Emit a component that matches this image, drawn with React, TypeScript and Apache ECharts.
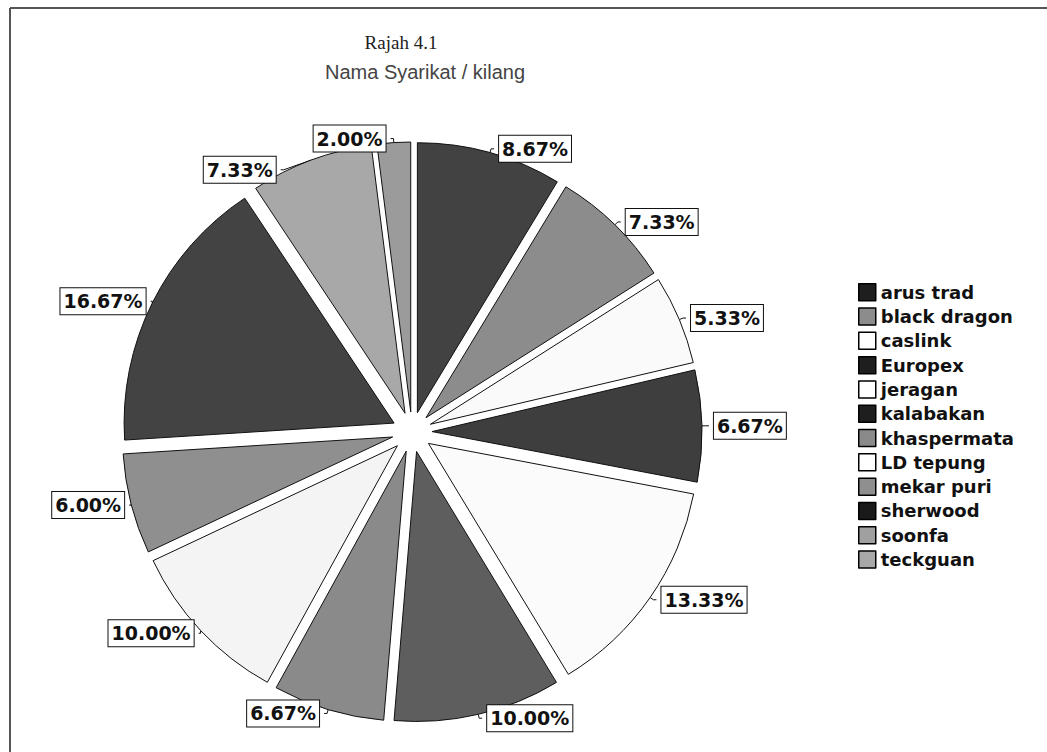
import React, { useEffect, useRef } from "react";
import * as echarts from "echarts";

const categories = [
  "arus trad",
  "black dragon",
  "caslink",
  "Europex",
  "jeragan",
  "kalabakan",
  "khaspermata",
  "LD tepung",
  "mekar puri",
  "sherwood",
  "soonfa",
  "teckguan",
];
const percents = [8.67, 7.33, 5.33, 6.67, 13.33, 10.0, 6.67, 10.0, 6.0, 16.67, 7.33, 2.0];
const sliceColors = [
  "#424242",
  "#8c8c8c",
  "#fafafa",
  "#3e3e3e",
  "#fbfbfb",
  "#5e5e5e",
  "#8a8a8a",
  "#f4f4f4",
  "#8f8f8f",
  "#434343",
  "#a8a8a8",
  "#9b9b9b",
];
const legendColors = [
  "#1e1e1e",
  "#8c8c8c",
  "#ffffff",
  "#1e1e1e",
  "#ffffff",
  "#1e1e1e",
  "#8a8a8a",
  "#ffffff",
  "#8f8f8f",
  "#1a1a1a",
  "#a0a0a0",
  "#a8a8a8",
];
const titleLine1 = "Rajah 4.1";
const titleLine2 = "Nama Syarikat / kilang";

export default function App() {
  const ref = useRef<HTMLDivElement>(null);
  useEffect(() => {
    if (!ref.current) return;
    const chart = echarts.init(ref.current, undefined, { renderer: "svg" });
    const data = categories.map((name, i) => ({
      name,
      value: percents[i],
      selected: true,
      itemStyle: { color: sliceColors[i] },
    }));
    chart.setOption({
      animation: false,
      backgroundColor: "#ffffff",
      graphic: [
        {
          type: "line",
          shape: { x1: 10, y1: 8, x2: 1047, y2: 8 },
          style: { stroke: "#555", lineWidth: 2 },
        },
        {
          type: "line",
          shape: { x1: 10, y1: 8, x2: 10, y2: 752 },
          style: { stroke: "#555", lineWidth: 2 },
        },
        {
          type: "text",
          x: 401,
          y: 42,
          style: {
            text: titleLine1,
            font: "19px 'Liberation Serif', serif",
            fill: "#222",
            textAlign: "center",
            textVerticalAlign: "middle",
          },
        },
        {
          type: "text",
          x: 425,
          y: 72,
          style: {
            text: titleLine2,
            font: "20px 'Liberation Sans', Arial, sans-serif",
            fill: "#444",
            textAlign: "center",
            textVerticalAlign: "middle",
          },
        },
      ],
      legend: {
        orient: "vertical",
        left: 858,
        top: 283,
        padding: 0,
        itemWidth: 17,
        itemHeight: 17,
        itemGap: 5.8,
        icon: "rect",
        selectedMode: false,
        data: categories.map((name, i) => ({
          name,
          itemStyle: { color: legendColors[i], borderColor: "#000", borderWidth: 1.5 },
        })),
        textStyle: {
          fontFamily: "'DejaVu Sans', sans-serif",
          fontWeight: "bold",
          fontSize: 18,
          lineHeight: 18,
          color: "#111",
        },
      },
      series: [
        {
          type: "pie",
          center: [412, 432],
          radius: [0, 270],
          startAngle: 90,
          clockwise: true,
          selectedMode: "multiple",
          selectedOffset: 20,
          avoidLabelOverlap: true,
          emphasis: { disabled: true },
          itemStyle: { borderColor: "#111", borderWidth: 1 },
          label: {
            show: true,
            position: "outside",
            formatter: (p: any) => p.value.toFixed(2) + "%",
            fontFamily: "'DejaVu Sans', sans-serif",
            fontWeight: "bold",
            fontSize: 19,
            color: "#111",
            backgroundColor: "#fff",
            borderColor: "#111",
            borderWidth: 1,
            padding: [4, 3, 3, 3],
          },
          labelLine: {
            show: true,
            length: 4,
            length2: 3,
            lineStyle: { color: "#111", width: 1 },
          },
          data,
        },
      ],
    });
    return () => chart.dispose();
  }, []);
  return (
    <div
      ref={ref}
      style={{ position: "fixed", left: 0, top: 0, width: 1047, height: 752 }}
    />
  );
}
